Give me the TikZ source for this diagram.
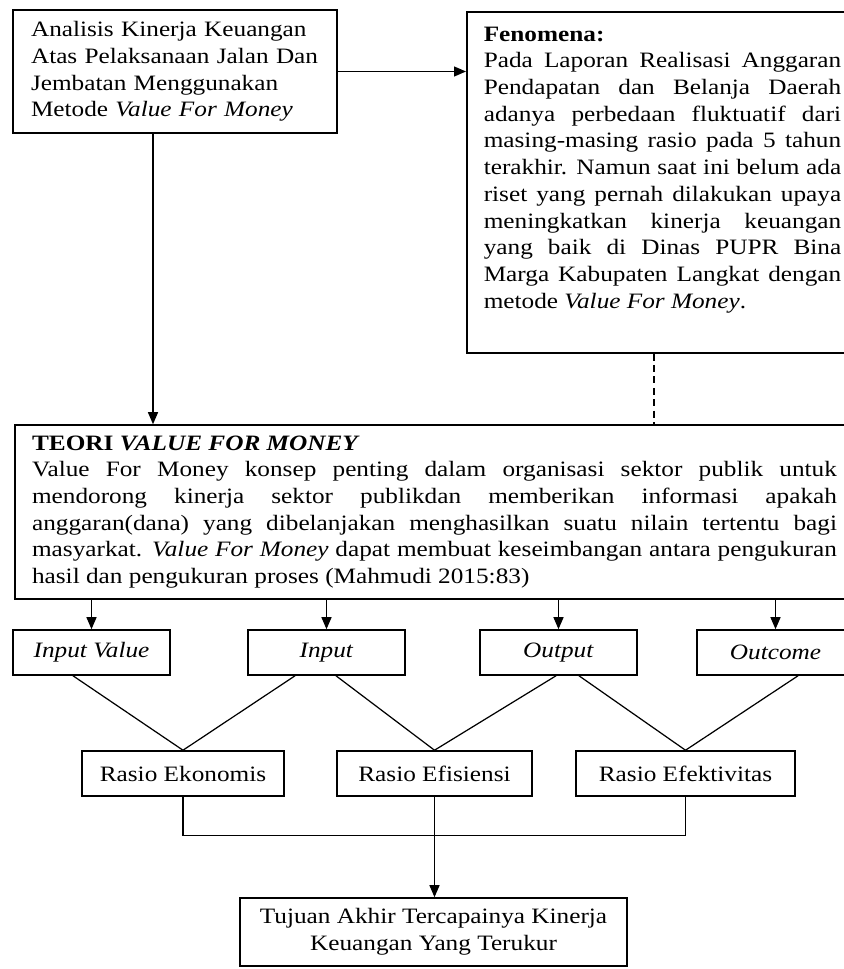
\documentclass[tikz,border=0pt]{standalone}
\usepackage{fontspec}
\setmainfont{Liberation Serif}[FakeStretch=1.15]
\usetikzlibrary{arrows.meta}

\tikzset{
	kotak/.style={draw, line width=0.9pt},
	kecil/.style={kotak, minimum width=3.14cm, minimum height=0.9cm, inner sep=0pt},
	rasio/.style={kotak, minimum height=0.9cm, inner sep=0pt},
	panah/.style={line width=0.7pt, -{Triangle[length=0.24cm,width=0.2cm]}},
	garis/.style={line width=0.7pt}
}

\begin{document}
\begin{tikzpicture}[x=0.02cm, y=-0.02cm, font=\fontsize{12.5}{15.2}\selectfont]
		
		%Row heights
		\def\rowy{652.5}
		\def\rasioy{773.5}
		
		%Page frame
		\useasboundingbox (0,0) rectangle (843,969);
		
		%Top boxes
		\node[kotak, text width=5.76cm, inner xsep=0.36cm, minimum height=2.46cm, align=left] (analisis) at (175,71.5) {Analisis Kinerja Keuangan\\ Atas Pelaksanaan Jalan Dan\\ Jembatan Menggunakan\\ Metode \textit{Value For Money}};
		\node[kotak, anchor=north west, inner xsep=0.34cm, inner ysep=0.3cm] (fenomena) at (466,11) {\parbox[t][6.22cm][t]{7.15cm}{\textbf{Fenomena:}\\
				Pada Laporan Realisasi Anggaran\linebreak
				Pendapatan dan Belanja Daerah\linebreak
				adanya perbedaan fluktuatif dari\linebreak
				masing-masing rasio pada 5 tahun\linebreak
				terakhir. Namun saat ini belum ada\linebreak
				riset yang pernah dilakukan upaya\linebreak
				meningkatkan kinerja keuangan\linebreak
				yang baik di Dinas PUPR Bina\linebreak
				Marga Kabupaten Langkat dengan\linebreak
				metode \textit{Value For Money}.}};
		
		%Theory box
		\node[kotak, text width=16.1cm, inner xsep=0.34cm, minimum height=3.48cm, align=justify] (teori) at (434.5,512) {\textbf{TEORI \textit{VALUE FOR MONEY}}\\
			Value For Money konsep penting dalam organisasi sektor publik untuk\linebreak
			mendorong kinerja sektor publikdan memberikan informasi apakah\linebreak
			anggaran(dana) yang dibelanjakan menghasilkan suatu nilain tertentu bagi\linebreak
			masyarkat. \textit{Value For Money} dapat membuat keseimbangan antara pengukuran\linebreak
			hasil dan pengukuran proses (Mahmudi 2015:83)};
		
		%Value for money parts
		\node[kecil] (iv) at (91.5,\rowy) {\textit{Input Value}};
		\node[kecil] (input) at (326.5,\rowy) {\textit{Input}};
		\node[kecil] (output) at (558.5,\rowy) {\textit{Output}};
		\node[kecil] (outcome) at (775.5,\rowy) {\textit{Outcome}};
		
		%Ratios
		\node[rasio, minimum width=4.04cm] (eko) at (183,\rasioy) {Rasio Ekonomis};
		\node[rasio, minimum width=3.9cm] (efi) at (434.5,\rasioy) {Rasio Efisiensi};
		\node[rasio, minimum width=4.38cm] (efek) at (685.5,\rasioy) {Rasio Efektivitas};
		
		%Goal
		\node[kotak, minimum width=7.74cm, minimum height=1.36cm, align=center] (tujuan) at (433.5,932) {Tujuan Akhir Tercapainya Kinerja\\ Keuangan Yang Terukur};
		
		%Drawing arrows
		\draw[panah] (analisis.east) -- (analisis.east -| fenomena.west);
		\draw[panah] ([xshift=-0.44cm]analisis.south) -- ([xshift=-0.44cm]analisis.south |- teori.north);
		\draw[garis, dash pattern=on 4pt off 2.5pt] ([xshift=-0.17cm]fenomena.south) -- ([xshift=-0.17cm]fenomena.south |- teori.north);
		\foreach \n in {iv,input,output,outcome}
			\draw[panah] (teori.south -| \n.north) -- (\n.north);
		
		%Lines to ratios
		\draw[garis] ([xshift=-0.37cm]iv.south) -- (eko.north) -- ([xshift=-0.63cm]input.south);
		\draw[garis] ([xshift=0.19cm]input.south) -- (efi.north) -- ([xshift=-0.05cm]output.south);
		\draw[garis] ([xshift=0.41cm]output.south) -- (efek.north) -- ([xshift=0.45cm]outcome.south);
		
		%Joining ratios
		\draw[garis] (eko.south) -- ++(0,39) -| (efek.south);
		\draw[panah] (efi.south) -- (efi.south |- tujuan.north);
	\end{tikzpicture}
\end{document}
